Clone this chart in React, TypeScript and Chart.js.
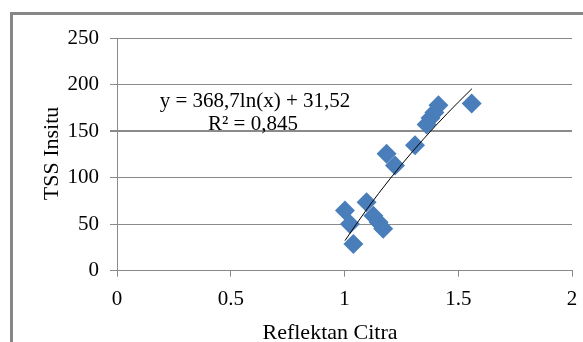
import React, { useEffect, useRef } from "react";
import { Chart, registerables } from "chart.js";

Chart.register(...registerables);

const reflektan = [1.002, 1.024, 1.039, 1.097, 1.127, 1.15, 1.17, 1.185, 1.222, 1.31, 1.361, 1.378, 1.395, 1.413, 1.559];
const tssInsitu = [64.6, 50.3, 28.7, 73.6, 59, 52, 45, 125.7, 113, 134.7, 157, 164, 170, 177.8, 179.6];

const trendX = [1.002, 1.1, 1.2, 1.3, 1.4, 1.5, 1.56];
const trendY = [32.3, 66.7, 98.7, 128.3, 155.6, 181.0, 195.5];

const xTicks = [0, 0.5, 1, 1.5, 2];
const yTicks = [0, 50, 100, 150, 200, 250];

const equationText = "y = 368,7ln(x) + 31,52";
const r2Text = "R² = 0,845";
const xTitle = "Reflektan Citra";
const yTitle = "TSS Insitu";

const FONT = "'Liberation Serif', 'Times New Roman', serif";
const GRID = "#8a8a8a";

export default function App() {
  const ref = useRef<HTMLCanvasElement>(null);

  useEffect(() => {
    if (!ref.current) return;
    const textPlugin = {
      id: "texts",
      afterDraw(chart: any) {
        const ctx = chart.ctx;
        ctx.save();
        ctx.fillStyle = "#000";
        ctx.textAlign = "center";
        ctx.textBaseline = "alphabetic";
        ctx.font = `21px ${FONT}`;
        ctx.fillText(equationText, 255, 106.5);
        ctx.fillText(r2Text, 253, 130);
        ctx.font = `22px ${FONT}`;
        ctx.fillText(xTitle, 330, 339);
        ctx.translate(58, 153.5);
        ctx.rotate(-Math.PI / 2);
        ctx.fillText(yTitle, 0, 0);
        ctx.restore();
      },
    };
    const chart = new Chart(ref.current, {
      type: "scatter",
      data: {
        datasets: [
          {
            type: "line",
            data: trendX.map((x, i) => ({ x, y: trendY[i] })),
            borderColor: "#000",
            borderWidth: 1,
            pointRadius: 0,
            tension: 0.4,
            cubicInterpolationMode: "monotone",
            fill: false,
            order: 0,
          },
          {
            data: reflektan.map((x, i) => ({ x, y: tssInsitu[i] })),
            pointStyle: "rectRot",
            pointRadius: 10,
            backgroundColor: "#4a7ebb",
            borderColor: "#4a7ebb",
            borderWidth: 0,
            order: 1,
          },
        ],
      },
      options: {
        animation: false,
        responsive: false,
        layout: { padding: { top: 38, right: 11, left: 0, bottom: 0 } },
        plugins: { legend: { display: false }, tooltip: { enabled: false } },
        scales: {
          x: {
            type: "linear",
            min: 0,
            max: 2,
            afterBuildTicks: (s: any) => {
              s.ticks = xTicks.map((v) => ({ value: v }));
            },
            afterFit: (s: any) => {
              s.height = 71.3;
              s.paddingLeft = 0;
              s.paddingRight = 0;
            },
            ticks: {
              font: { family: FONT, size: 21 },
              color: "#000",
              padding: 10,
              maxRotation: 0,
              callback: (v: any) => String(v),
            },
            grid: {
              drawOnChartArea: false,
              drawTicks: true,
              tickLength: 6,
              color: GRID,
            },
            border: { color: GRID, width: 1 },
          },
          y: {
            type: "linear",
            min: 0,
            max: 250,
            afterBuildTicks: (s: any) => {
              s.ticks = yTicks.map((v) => ({ value: v }));
            },
            afterFit: (s: any) => {
              s.width = 117;
              s.paddingTop = 0;
              s.paddingBottom = 0;
            },
            ticks: {
              font: { family: FONT, size: 21 },
              color: "#000",
              padding: 11,
            },
            grid: {
              color: GRID,
              tickLength: 7,
              lineWidth: (c: any) => (c.tick && c.tick.value === 150 ? 2 : 1),
            },
            border: { color: GRID, width: 1 },
          },
        },
      },
      plugins: [textPlugin],
    } as any);
    return () => chart.destroy();
  }, []);

  return (
    <div style={{ position: "fixed", left: 0, top: 0, width: 583, height: 342, overflow: "hidden", background: "#fff" }}>
      <div
        style={{
          position: "absolute",
          left: 10,
          top: 12,
          width: 700,
          height: 500,
          borderLeft: "3px solid #878787",
          borderTop: "3px solid #878787",
        }}
      />
      <canvas ref={ref} width={583} height={342} style={{ position: "absolute", left: 0, top: 0, width: 583, height: 342 }} />
    </div>
  );
}
